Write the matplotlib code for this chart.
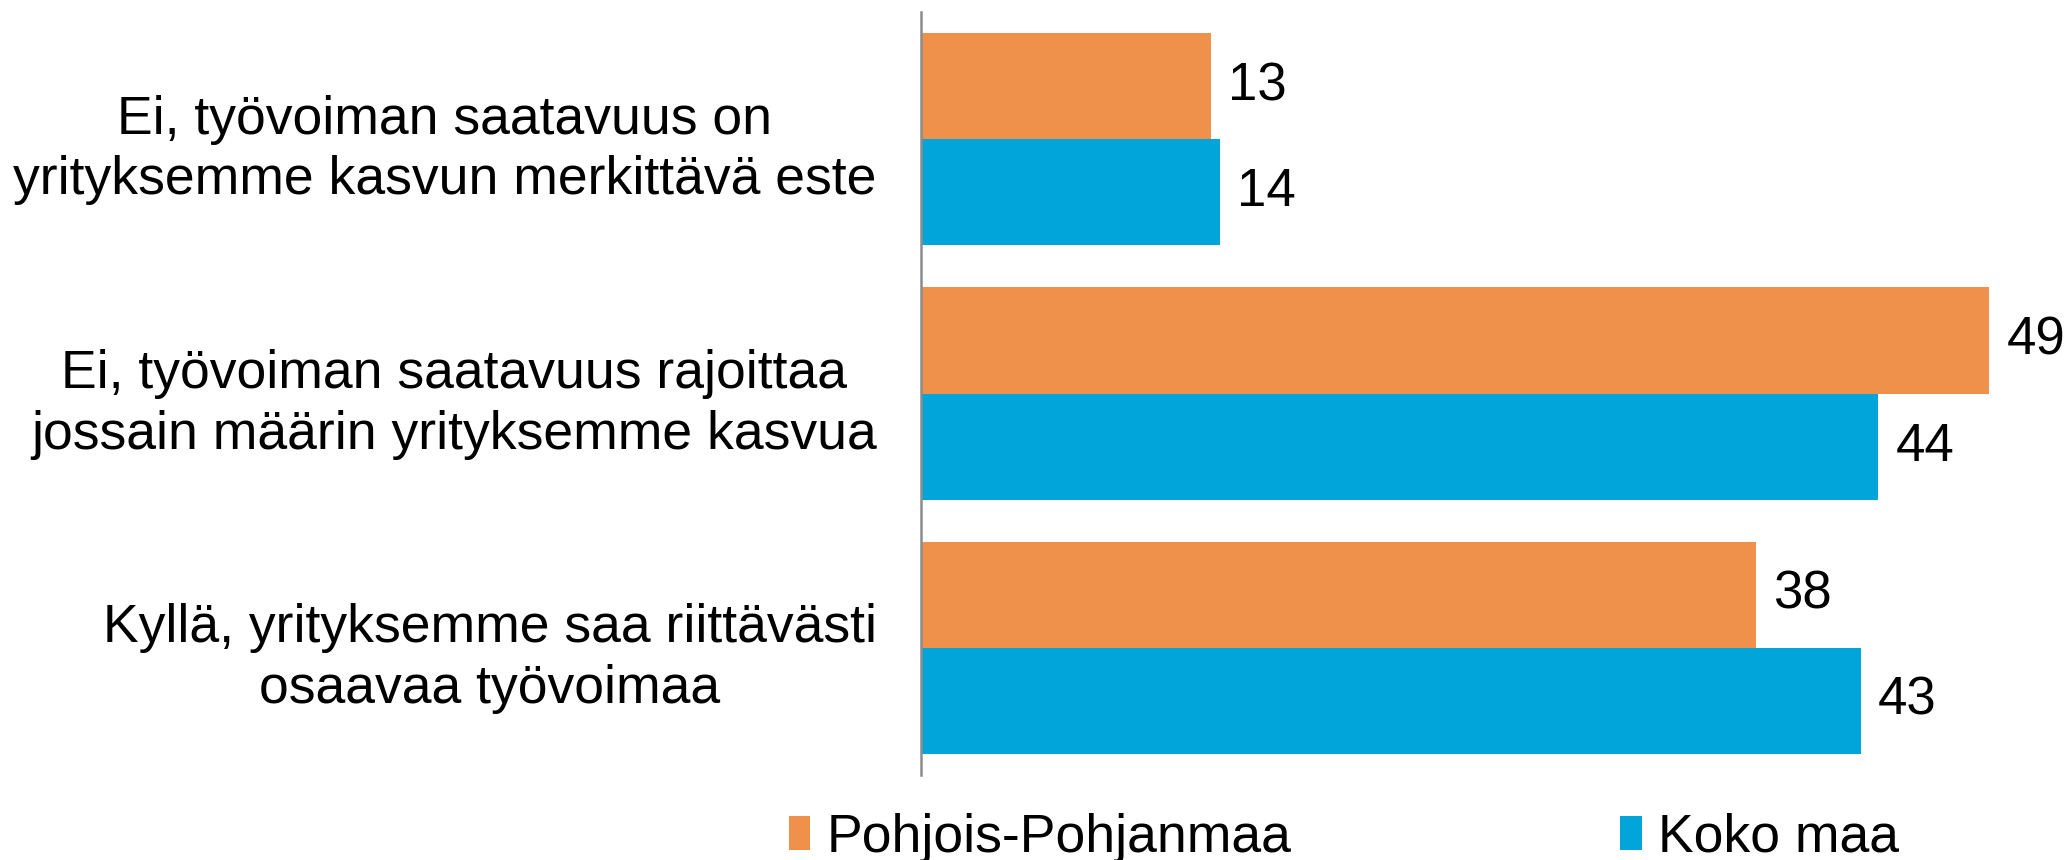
import numpy as np
import matplotlib
matplotlib.use("Agg")
import matplotlib.pyplot as plt
from matplotlib.patches import Patch

plt.rcParams["font.family"] = ["Liberation Sans", "DejaVu Sans"]

# ---- data ----------------------------------------------------------
categories = [
    "Ei, työvoiman saatavuus on\nyrityksemme kasvun merkittävä este",
    "Ei, työvoiman saatavuus rajoittaa\njossain määrin yrityksemme kasvua",
    "Kyllä, yrityksemme saa riittävästi\nosaavaa työvoimaa",
]
series_names = ["Pohjois-Pohjanmaa", "Koko maa"]
pohjois = [13.3, 49.0, 38.3]
koko_maa = [13.7, 43.9, 43.1]

colors = ["#F0914B", "#02A5DA"]

# ---- figure --------------------------------------------------------
W, H = 2072, 860
fig = plt.figure(figsize=(W / 100, H / 100), dpi=100)
ax = fig.add_axes([921 / W, 85 / H, (W - 921) / W, (775 - 12) / H])

y = np.arange(len(categories))
h = 0.4175
for vals, color, off in [(pohjois, colors[0], -h / 2), (koko_maa, colors[1], h / 2)]:
    bars = ax.barh(y + off, vals, height=h, color=color)
    for b, v in zip(bars, vals):
        ax.text(b.get_width() + 0.8, b.get_y() + b.get_height() / 2, f"{v:.0f}",
                va="center", ha="left", fontsize=38)

ax.set_xlim(0, (W - 921) / 21.8)
ax.set_ylim(len(categories) - 0.5, -0.5)
ax.set_yticks(y)
ax.set_yticklabels(categories, fontsize=38.5, multialignment="center", linespacing=1.27)
ax.tick_params(axis="y", length=0, pad=32)
ax.xaxis.set_visible(False)
for s in ["top", "right", "bottom"]:
    ax.spines[s].set_visible(False)
ax.spines["left"].set_color("#8c8c8c")
ax.spines["left"].set_linewidth(1.8)

handles = [Patch(facecolor=c, label=n) for c, n in zip(colors, series_names)]
fig.legend(handles=handles, loc="center left", bbox_to_anchor=(789 / W, 22 / H),
           ncol=2, frameon=False, fontsize=38.5, handlelength=0.4, handleheight=0.6,
           handletextpad=0.3, columnspacing=6.15, borderaxespad=0, borderpad=0)

fig.savefig("out.png", dpi=100)
